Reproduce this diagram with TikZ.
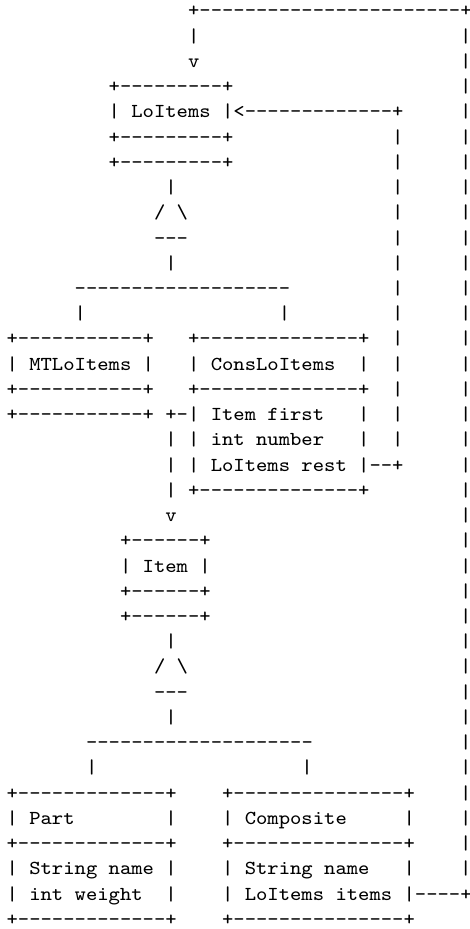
\documentclass[tikz,border=0pt]{standalone}
\usepackage{graphicx}
\usetikzlibrary{calc}

% character grid: column pitch and line pitch of the monospaced layout
\newcommand\colw{5.25pt}
\newcommand\rowh{11.68pt}

\tikzset{
  glyphs/.style={anchor=base west, inner sep=0pt, outer sep=0pt,
    font=\ttfamily\fontsize{9.17pt}{11pt}\selectfont},
}

% put a run of characters at (row, column) of the grid
\newcommand\asc[3]{%
  \node[glyphs, name=r#1c#2] at ({3.07pt+\colw*#2},{-7.87pt-\rowh*(#1-1)})
    {\scalebox{1.0907}[1]{#3}};}

\begin{document}
\begin{tikzpicture}
\useasboundingbox (0,0) rectangle (217.13pt,-430.09pt);

% outer loop from Composite back to LoItems
\asc{1}{16}{+-----------------------+}
\asc{2}{16}{|}
\asc{3}{16}{v}
\foreach \r in {2,...,35} {\asc{\r}{40}{|}}

% LoItems
\asc{4}{9}{+---------+}
\asc{5}{9}{| LoItems |<-------------+}
\asc{6}{9}{+---------+}
\asc{7}{9}{+---------+}
\foreach \r in {6,...,18} {\asc{\r}{34}{|}}

% inheritance triangle of LoItems
\asc{8}{14}{|}
\asc{9}{13}{/ \textbackslash}
\asc{10}{13}{---}
\asc{11}{14}{|}
\asc{12}{6}{-------------------}
\asc{13}{6}{|}
\asc{13}{24}{|}

% MTLoItems and ConsLoItems
\asc{14}{0}{+-----------+}
\asc{14}{16}{+--------------+}
\asc{15}{0}{| MTLoItems |}
\asc{15}{16}{| ConsLoItems}
\asc{15}{31}{|}
\asc{16}{0}{+-----------+}
\asc{16}{16}{+--------------+}
\asc{17}{0}{+-----------+}
\asc{17}{14}{+-| Item first}
\asc{17}{31}{|}
\asc{18}{14}{| | int number}
\asc{18}{31}{|}
\asc{19}{14}{| | LoItems rest |--+}
\asc{20}{14}{| +--------------+}
\asc{21}{14}{v}

% Item
\asc{22}{10}{+------+}
\asc{23}{10}{| Item |}
\asc{24}{10}{+------+}
\asc{25}{10}{+------+}

% inheritance triangle of Item
\asc{26}{14}{|}
\asc{27}{13}{/ \textbackslash}
\asc{28}{13}{---}
\asc{29}{14}{|}
\asc{30}{7}{--------------------}
\asc{31}{7}{|}
\asc{31}{26}{|}

% Part and Composite
\asc{32}{0}{+-------------+}
\asc{32}{19}{+---------------+}
\asc{33}{0}{| Part}
\asc{33}{14}{|}
\asc{33}{19}{| Composite}
\asc{33}{35}{|}
\asc{34}{0}{+-------------+}
\asc{34}{19}{+---------------+}
\asc{35}{0}{| String name |}
\asc{35}{19}{| String name}
\asc{35}{35}{|}
\asc{36}{0}{| int weight}
\asc{36}{14}{|}
\asc{36}{19}{| LoItems items |----+}
\asc{37}{0}{+-------------+}
\asc{37}{19}{+---------------+}
\end{tikzpicture}
\end{document}
